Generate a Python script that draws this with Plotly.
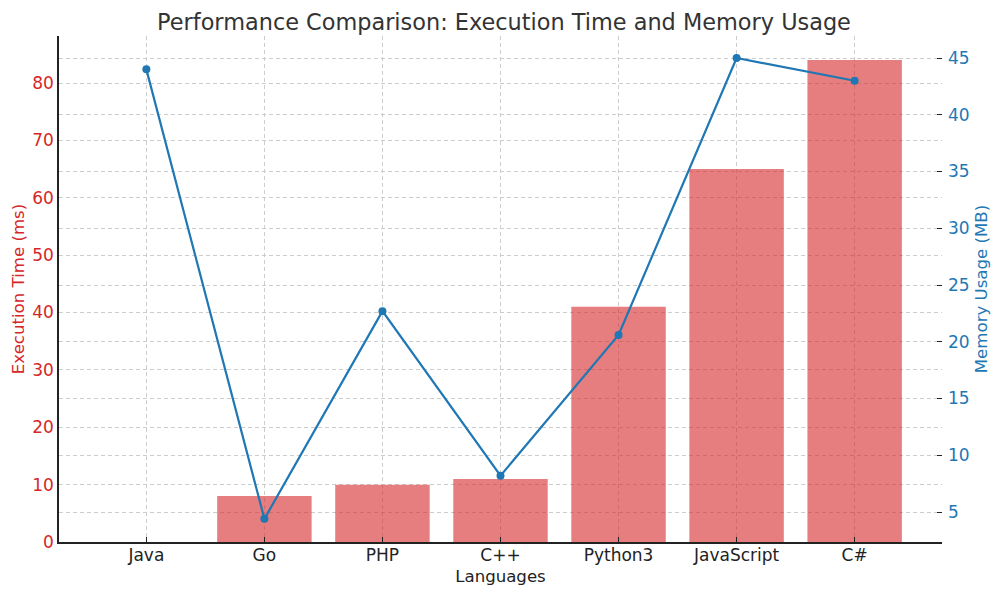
import plotly.graph_objects as go

languages = ["Java", "Go", "PHP", "C++", "Python3", "JavaScript", "C#"]
exec_time_ms = [0, 8, 10, 11, 41, 65, 84]
memory_mb = [44.0, 4.4, 22.7, 8.2, 20.6, 45.0, 43.0]

font_family = "DejaVu Sans"
grid_col = "rgba(200,200,200,0.9)"
grid_dash = "4px,3px"

fig = go.Figure()
fig.add_trace(go.Bar(
    x=languages, y=exec_time_ms, name="Execution Time (ms)",
    marker=dict(color="rgba(214,39,40,0.6)", line=dict(width=0)),
    width=0.8, yaxis="y",
))
fig.add_trace(go.Scatter(
    x=languages, y=memory_mb, name="Memory Usage (MB)",
    mode="lines+markers",
    line=dict(color="#1f77b4", width=2.2),
    marker=dict(color="#1f77b4", size=8),
    yaxis="y2",
))

fig.update_layout(
    width=992, height=588,
    margin=dict(l=51, r=58, t=28, b=54),
    paper_bgcolor="white", plot_bgcolor="white",
    showlegend=False,
    font=dict(family=font_family, size=17, color="#222222"),
    title=dict(text="Performance Comparison: Execution Time and Memory Usage",
               x=0.5, xanchor="center", y=0.9755, yanchor="middle",
               font=dict(size=22.4, color="#333333", family=font_family),
               automargin=False),
    xaxis=dict(
        type="category", range=[-0.74, 6.74], automargin=False,
        showline=True, linecolor="#222222", linewidth=1.5,
        ticks="inside", ticklen=5, tickcolor="#222222",
        ticklabelstandoff=-3,
        showgrid=True, gridcolor=grid_col, griddash=grid_dash, gridwidth=1,
        title=dict(text="Languages", font=dict(size=16.6, color="#222222"), standoff=6),
        tickfont=dict(size=17, color="#222222"),
        zeroline=False,
    ),
    yaxis=dict(
        range=[0, 88.2], tick0=0, dtick=10, automargin=False,
        showline=True, linecolor="#222222", linewidth=1.5,
        ticks="",
        showgrid=True, gridcolor=grid_col, griddash=grid_dash, gridwidth=1,
        zeroline=False,
        title=dict(text="Execution Time (ms)", font=dict(size=16.6, color="#d62728"), standoff=3),
        tickfont=dict(size=17, color="#d62728"),
    ),
    yaxis2=dict(
        range=[2.36, 46.94], tick0=5, dtick=5, automargin=False,
        overlaying="y", side="right",
        showline=False,
        ticks="inside", ticklen=5, tickcolor="#222222",
        ticklabelstandoff=5,
        showgrid=True, gridcolor=grid_col, griddash=grid_dash, gridwidth=1,
        zeroline=False,
        title=dict(text="Memory Usage (MB)", font=dict(size=16.6, color="#1f77b4"), standoff=6),
        tickfont=dict(size=17, color="#1f77b4"),
    ),
)

fig.write_html("out.html")
